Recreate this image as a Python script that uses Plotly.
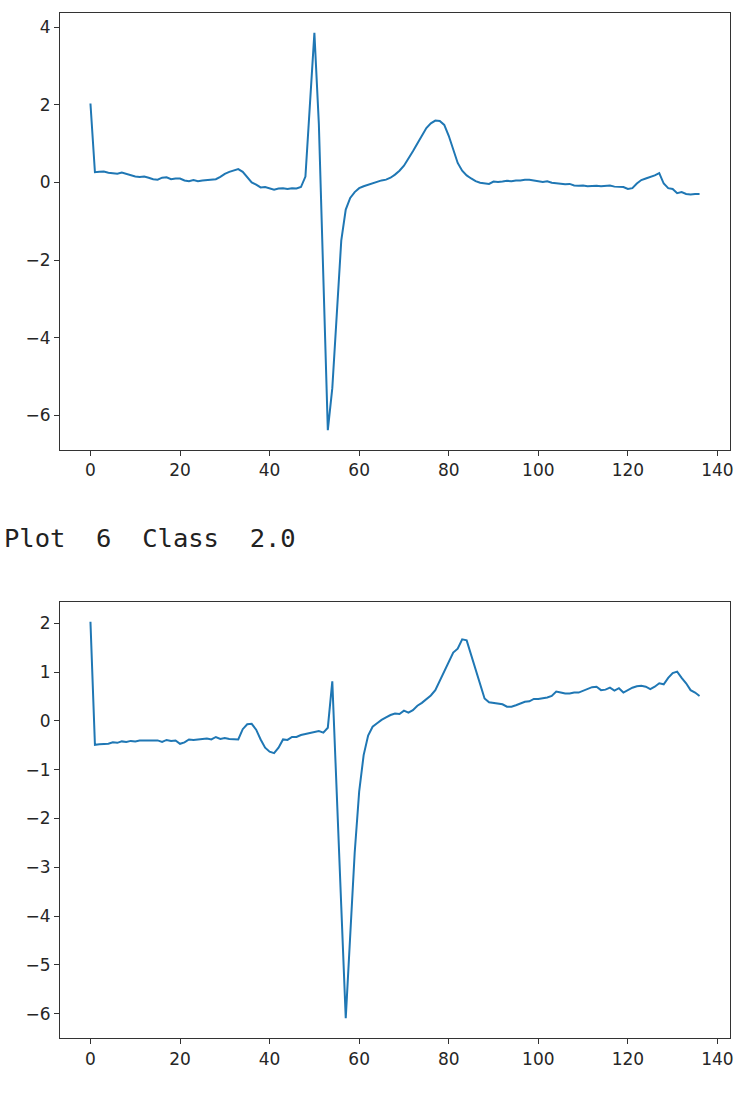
import plotly.graph_objects as go

# ---- data ----
sample_index = list(range(137))

plot5_values = [
    2.03, 0.26, 0.27, 0.28, 0.25, 0.24, 0.22, 0.25, 0.22, 0.19,
    0.15, 0.14, 0.15, 0.12, 0.08, 0.07, 0.12, 0.13, 0.08, 0.10,
    0.10, 0.05, 0.03, 0.06, 0.03, 0.05, 0.06, 0.06, 0.08, 0.14,
    0.22, 0.27, 0.30, 0.34, 0.27, 0.12, 0.00, -0.06, -0.13, -0.12,
    -0.16, -0.19, -0.16, -0.15, -0.17, -0.15, -0.16, -0.12, 0.15, 2.10,
    3.85, 1.50, -2.40, -6.38, -5.30, -3.40, -1.50, -0.70, -0.40, -0.25,
    -0.15, -0.10, -0.06, -0.03, 0.00, 0.05, 0.07, 0.12, 0.20, 0.30,
    0.43, 0.60, 0.80, 1.00, 1.22, 1.40, 1.52, 1.59, 1.58, 1.48,
    1.20, 0.85, 0.50, 0.30, 0.18, 0.10, 0.03, -0.01, -0.03, -0.04,
    0.02, 0.01, 0.02, 0.04, 0.03, 0.05, 0.05, 0.07, 0.07, 0.05,
    0.04, 0.01, 0.03, -0.01, -0.02, -0.03, -0.05, -0.04, -0.08, -0.09,
    -0.08, -0.10, -0.09, -0.09, -0.10, -0.09, -0.08, -0.11, -0.11, -0.12,
    -0.17, -0.15, -0.03, 0.06, 0.10, 0.13, 0.18, 0.24, -0.03, -0.15,
    -0.17, -0.28, -0.25, -0.30, -0.31, -0.30, -0.30,
]

plot6_values = [
    2.03, -0.49, -0.48, -0.47, -0.47, -0.44, -0.45, -0.42, -0.43, -0.41,
    -0.42, -0.40, -0.40, -0.41, -0.40, -0.40, -0.43, -0.39, -0.41, -0.40,
    -0.47, -0.44, -0.38, -0.39, -0.38, -0.37, -0.36, -0.38, -0.33, -0.37,
    -0.35, -0.37, -0.38, -0.38, -0.17, -0.07, -0.06, -0.18, -0.38, -0.55,
    -0.63, -0.66, -0.55, -0.38, -0.39, -0.33, -0.33, -0.29, -0.27, -0.25,
    -0.23, -0.21, -0.24, -0.14, 0.81, -1.70, -3.80, -6.09, -4.50, -2.70,
    -1.45, -0.70, -0.30, -0.12, -0.05, 0.02, 0.07, 0.12, 0.15, 0.14,
    0.21, 0.17, 0.22, 0.31, 0.37, 0.44, 0.52, 0.63, 0.82, 1.03,
    1.22, 1.40, 1.48, 1.67, 1.65, 1.35, 1.05, 0.75, 0.46, 0.38,
    0.37, 0.36, 0.34, 0.29, 0.29, 0.32, 0.35, 0.39, 0.40, 0.45,
    0.45, 0.46, 0.48, 0.51, 0.60, 0.58, 0.56, 0.56, 0.58, 0.58,
    0.62, 0.66, 0.69, 0.70, 0.63, 0.64, 0.68, 0.62, 0.67, 0.58,
    0.63, 0.68, 0.71, 0.72, 0.70, 0.65, 0.70, 0.77, 0.75, 0.88,
    0.98, 1.01, 0.88, 0.77, 0.63, 0.58, 0.51,
]

caption_text = "Plot  6  Class  2.0"
x_ticks = [0, 20, 40, 60, 80, 100, 120, 140]
y_ticks_top = [-6, -4, -2, 0, 2, 4]
y_ticks_bottom = [-6, -5, -4, -3, -2, -1, 0, 1, 2]

# ---- figure ----
line_color = "#1f77b4"
axis_color = "#333333"
tick_font = dict(family="DejaVu Sans", size=17, color="#262626")

fig = go.Figure()
fig.add_trace(go.Scatter(x=sample_index, y=plot5_values, mode="lines",
                         line=dict(color=line_color, width=2),
                         xaxis="x", yaxis="y", showlegend=False))
fig.add_trace(go.Scatter(x=sample_index, y=plot6_values, mode="lines",
                         line=dict(color=line_color, width=2),
                         xaxis="x2", yaxis="y2", showlegend=False))

def pad(vals, frac=0.05):
    lo, hi = min(vals), max(vals)
    d = (hi - lo) * frac
    return [lo - d, hi + d]

xr = pad(sample_index)

common_axis = dict(showline=True, linecolor=axis_color, linewidth=1.2, mirror=True,
                   ticks="outside", ticklen=5, tickwidth=1.2, tickcolor=axis_color,
                   showgrid=False, zeroline=False, tickfont=tick_font)

fig.update_layout(
    width=741, height=1093,
    margin=dict(l=60, r=7, t=13, b=55),
    paper_bgcolor="white", plot_bgcolor="white",
    xaxis=dict(domain=[0, 1], anchor="y", range=xr, tickvals=x_ticks, **common_axis),
    yaxis=dict(domain=[0.5737, 1.0], anchor="x", range=pad(plot5_values),
               tickvals=y_ticks_top, **common_axis),
    xaxis2=dict(domain=[0, 1], anchor="y2", range=xr, tickvals=x_ticks, **common_axis),
    yaxis2=dict(domain=[0.0, 0.4254], anchor="x2", range=pad(plot6_values),
                tickvals=y_ticks_bottom, **common_axis),
    annotations=[dict(
        text=caption_text.replace(" ", "\u00a0"),
        xref="paper", yref="paper", x=-0.0860, y=0.4878,
        xanchor="left", yanchor="middle", showarrow=False,
        font=dict(family="DejaVu Sans Mono", size=25.5, color="#222222"),
    )],
)

fig.write_html(
    "out.html",
    config={"displayModeBar": False},
    post_script="document.body.style.margin='0';document.body.style.overflow='hidden';",
)
